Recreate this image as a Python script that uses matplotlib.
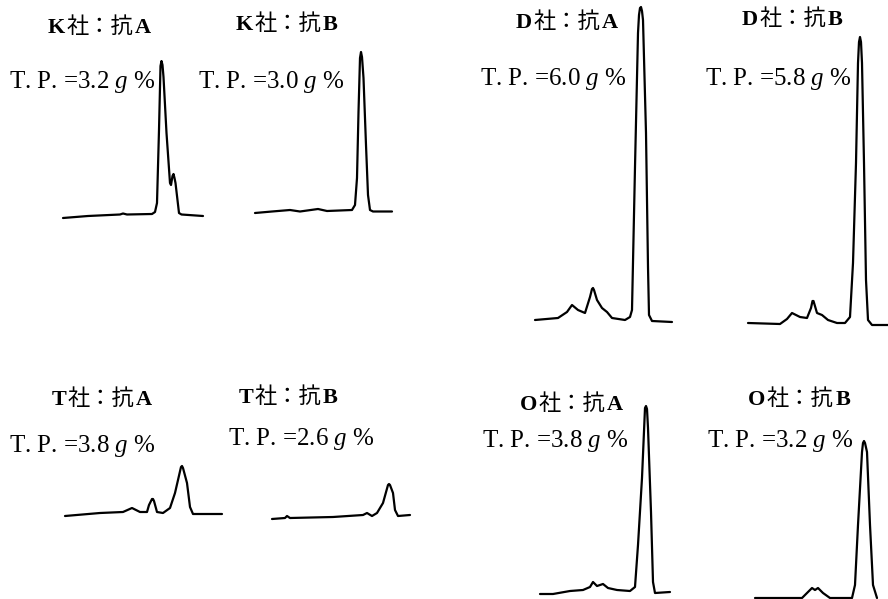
import matplotlib
matplotlib.use("Agg")
import matplotlib.pyplot as plt
from matplotlib.transforms import Affine2D

plt.rcParams['font.family'] = ['Liberation Serif', 'Noto Sans CJK JP']
plt.rcParams['mathtext.fontset'] = 'custom'
plt.rcParams['mathtext.rm'] = 'Liberation Serif'
plt.rcParams['mathtext.it'] = 'Liberation Serif:italic'

# ---------------- data ----------------
companies = ["K", "K", "D", "D", "T", "T", "O", "O"]
antisera = ["A", "B", "A", "B", "A", "B", "A", "B"]
tp_values = ["3.2", "3.0", "6.0", "5.8", "3.8", "2.6", "3.8", "3.2"]

# densitometer traces: position along strip, density height
ka_x = [0, 25, 57, 60, 64, 89, 92, 94, 96, 97.5, 98.5, 99.5, 100.5, 103.5, 107, 108, 109.5, 110.5, 111.5, 112.5, 116, 118.5, 140]
ka_y = [0, 2, 3.5, 4.5, 3.5, 4, 6, 15, 88, 152, 157, 153, 141, 85, 35, 33, 42, 44, 40, 35, 5, 3.5, 2]

kb_x = [0, 17, 35, 45, 63, 72, 97, 100, 102, 103.5, 105, 106, 107, 108.5, 111, 113, 115, 118, 137]
kb_y = [0, 1.5, 3, 1.5, 4, 2, 3, 8, 35, 101, 155, 161, 156, 135, 68, 18, 3, 1.5, 1.5]

da_x = [0, 23, 32, 37, 43, 50, 55, 57, 58, 59, 62, 67, 72, 77, 90, 95, 97, 100, 103, 104, 105, 106, 107, 108, 111, 113, 114, 117, 137]
da_y = [1, 3, 9, 16, 11, 8, 24, 32, 33, 31, 21, 13, 9, 3, 1, 4, 11, 154, 288, 306, 313, 314, 310, 301, 188, 54, 6, 0, -1]

db_x = [0, 32, 39, 44, 52, 59, 63, 64.5, 65.5, 69, 74, 80, 89, 97, 102, 105, 108, 110, 111, 112, 113, 114, 116, 118, 120, 124, 140]
db_y = [1, 0, 5, 11, 7, 6, 16, 23, 23, 11, 9, 4, 1, 1, 7, 61, 161, 261, 282, 287, 282, 261, 161, 44, 4, -1, -1]

ta_x = [0, 35, 58, 67, 75, 82, 84, 87, 88, 89, 92, 98, 105, 110, 116, 117, 118, 122, 125, 128, 157]
ta_y = [0, 3, 4, 8, 4, 4, 11, 17, 17, 15, 4, 3, 8, 23, 49, 50, 48, 33, 9, 2, 2]

tb_x = [0, 13, 15, 18, 61, 91, 95, 100, 105, 111, 116, 117, 118, 121, 123, 126, 138]
tb_y = [0, 1, 3, 1, 2, 4, 6, 3, 6, 16, 34, 35, 34, 26, 9, 3, 4]

oa_x = [0, 13, 30, 43, 50, 53, 57, 63, 68, 77, 90, 95, 98, 102, 105, 106, 107, 108, 111, 113, 115, 130]
oa_y = [0, 0, 3, 4, 7, 12, 8, 10, 6, 4, 3, 7, 49, 116, 186, 188, 185, 166, 82, 12, 1, 2]

ob_x = [0, 47, 52, 57, 60, 63, 68, 75, 97, 100, 103, 107, 108, 109, 110, 112, 115, 118, 122]
ob_y = [0, 0, 5, 10, 8, 10, 5, 0, 0, 13, 73, 146, 155, 157, 155, 146, 73, 13, 0]

traces = [(ka_x, ka_y), (kb_x, kb_y), (da_x, da_y), (db_x, db_y),
          (ta_x, ta_y), (tb_x, tb_y), (oa_x, oa_y), (ob_x, ob_y)]

# ---------------- layout (pixels) ----------------
W, H = 888, 599
trace_origin = [(63, 218), (255, 213), (535, 321), (748, 324),
                (65, 516), (272, 519), (540, 594), (755, 598)]
title_pos = [(99, 33), (287, 30), (567, 28), (792, 25),
             (102, 405), (288, 403), (571, 410), (799, 405)]
tp_pos = [(9, 88), (198, 88), (480, 85), (705, 85),
          (9, 452), (228, 445), (482, 447), (707, 447)]

fig = plt.figure(figsize=(W / 100, H / 100), dpi=100)
ax = fig.add_axes([0, 0, 1, 1])
ax.set_xlim(0, W)
ax.set_ylim(H, 0)
ax.axis('off')

for (xs, ys), (ox, oy) in zip(traces, trace_origin):
    tr = Affine2D().scale(1, -1).translate(ox, oy) + ax.transData
    ax.plot(xs, ys, color='black', lw=1.6, transform=tr,
            solid_joinstyle='round', solid_capstyle='round')

renderer = fig.canvas.get_renderer()


def draw_group(cx, y, pieces, gap=1.5, size=16):
    texts = [ax.text(0, y, s, fontsize=size, fontweight=w, ha='left',
                     va='baseline', color='black') for s, w in pieces]
    widths = [t.get_window_extent(renderer).width for t in texts]
    total = sum(widths) + gap * (len(texts) - 1)
    x = cx - total / 2
    for t, wd in zip(texts, widths):
        t.set_x(x)
        x += wd + gap


for comp, anti, (tx, ty) in zip(companies, antisera, title_pos):
    draw_group(tx, ty, [(comp, 'bold'), ("社：抗", 'normal'), (anti, 'bold')])

for val, (px, py) in zip(tp_values, tp_pos):
    ax.text(px, py, f"T. P. ={val} " + r"$\mathit{g}$" + " %", ha='left',
            va='baseline', fontsize=18, color='black')

fig.savefig("out.png", dpi=100, facecolor='white')
